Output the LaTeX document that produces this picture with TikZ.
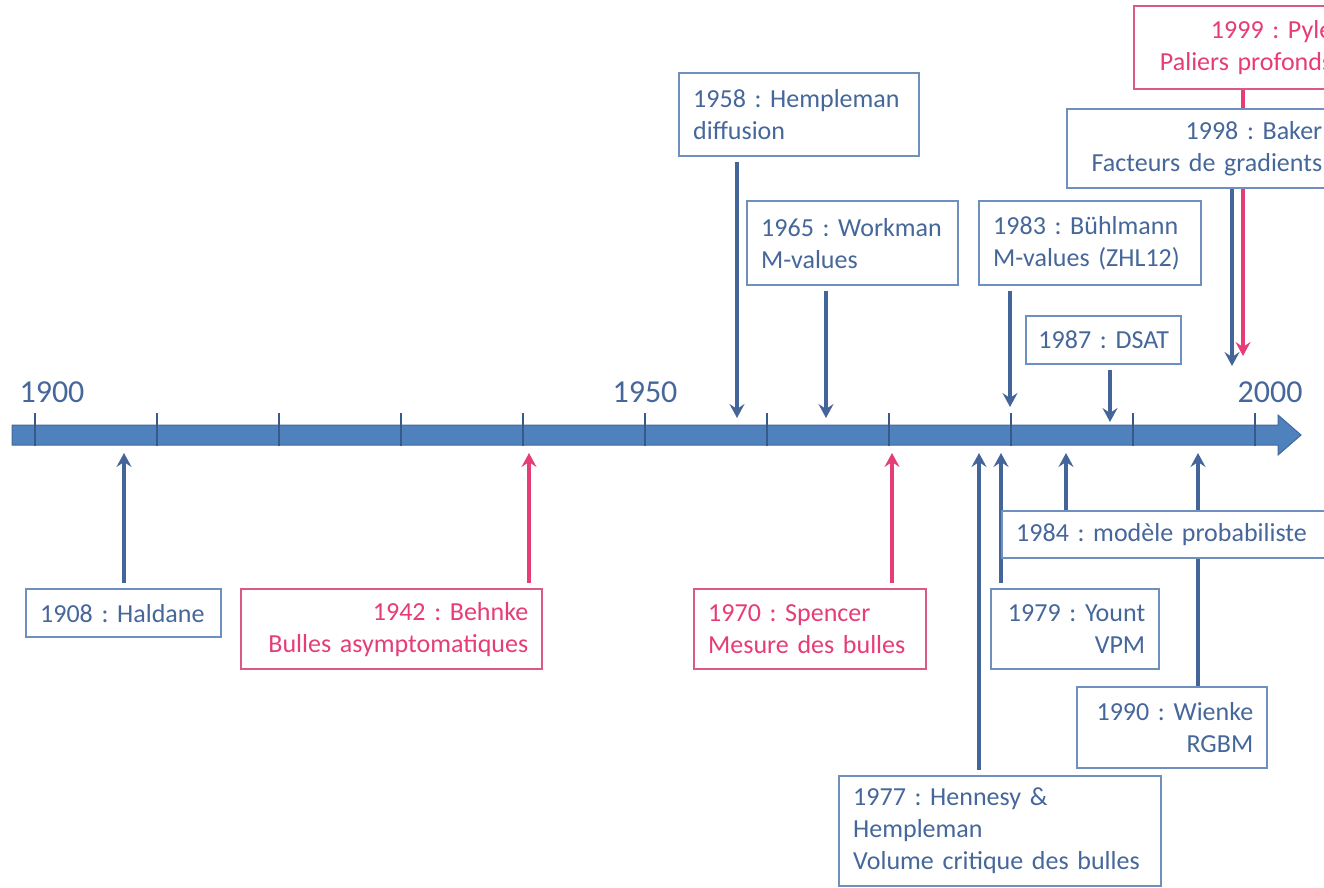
\documentclass[tikz,border=0pt]{standalone}
\usepackage{fontspec}
\setmainfont{Carlito}
\usetikzlibrary{arrows.meta}
\definecolor{bluetxt}{HTML}{46679A}
\definecolor{blueline}{HTML}{6F90BF}
\definecolor{arrblue}{HTML}{43659A}
\definecolor{pinktxt}{HTML}{E63C78}
\definecolor{pinkline}{HTML}{DB5A85}
\definecolor{barfill}{HTML}{4F81BD}
\definecolor{bardraw}{HTML}{41699C}
\definecolor{tickc}{HTML}{365B8A}
\pgfdeclarelayer{bg}
\pgfsetlayers{bg,main}
\frenchspacing
\begin{document}
\begin{tikzpicture}[x=1pt,y=-1pt,
  evbox/.style={draw=blueline, line width=2.4pt, fill=white, text=bluetxt,
    font=\fontsize{26}{32}\selectfont\frenchspacing, inner xsep=14pt, inner ysep=0pt, anchor=north west},
  pinkbox/.style={evbox, draw=pinkline, text=pinktxt},
  arr/.style={draw=arrblue, line width=3.2pt, shorten <=5pt,
    -{Stealth[length=14pt,width=15pt,inset=5pt]}},
  parr/.style={arr, draw=pinktxt},
  yearlbl/.style={text=bluetxt, font=\fontsize{32}{36}\selectfont},
  tick/.style={draw=tickc, line width=2.4pt}]
\useasboundingbox (0,0) rectangle (1324,888);
\clip (0,0) rectangle (1324,888);

% axis
\path[fill=barfill, draw=bardraw, line width=1pt]
  (12,425) -- (1278,425) -- (1278,415) -- (1301,435) -- (1278,455) -- (1278,445) -- (12,445) -- cycle;
\foreach \k in {0,...,10} {
  \draw[tick] (35+122*\k,413) -- (35+122*\k,446);
}
\node[yearlbl] (y1900) at (52,392) {1900};
\node[yearlbl] (y1950) at (645,392) {1950};
\node[yearlbl] (y2000) at (1270,392) {2000};

% boxes
\node[evbox, minimum width=195pt, minimum height=48pt, text width=167pt, align=left] (haldane) at (25,588) {1908 : Haldane};
\node[pinkbox, minimum width=301pt, minimum height=80pt, text width=273pt, align=right] (behnke) at (240,588) {1942 : Behnke\\Bulles asymptomatiques};
\node[evbox, minimum width=240pt, minimum height=83pt, text width=212pt, align=left] (hempleman) at (678,72) {1958 : Hempleman\\diffusion};
\node[evbox, minimum width=211pt, minimum height=84pt, text width=183pt, align=left] (workman) at (746,200) {1965 : Workman\\M-values};
\node[pinkbox, minimum width=232pt, minimum height=80pt, text width=204pt, align=left] (spencer) at (693,588) {1970 : Spencer\\Mesure des bulles};
\node[evbox, minimum width=322pt, minimum height=110pt, text width=294pt, align=left] (hennesy) at (838,775) {1977 : Hennesy \&\\Hempleman\\Volume critique des bulles};
\node[evbox, minimum width=168pt, minimum height=80pt, text width=140pt, align=right] (yount) at (990,588) {1979 : Yount\\VPM};
\node[evbox, minimum width=222pt, minimum height=84pt, text width=194pt, align=left] (buhlmann) at (978,200) {1983 : Bühlmann\\M-values (ZHL12)};
\node[evbox, minimum width=340pt, minimum height=47pt, text width=312pt, align=left] (proba) at (1001,510) {1984 : modèle probabiliste};
\node[evbox, inner xsep=8pt, minimum width=155pt, minimum height=48pt, text width=139pt, align=center] (dsat) at (1025,315) {1987 : DSAT};
\node[evbox, minimum width=190pt, minimum height=81pt, text width=162pt, align=right] (wienke) at (1076,686) {1990 : Wienke\\RGBM};
\node[evbox, minimum width=269pt, minimum height=79pt, text width=241pt, align=right] (baker) at (1066,108) {1998 : Baker\\Facteurs de gradients};
\node[pinkbox, minimum width=212pt, minimum height=83pt, text width=184pt, align=right] (pyle) at (1133,5) {1999 : Pyle\\Paliers profonds};

% arrow tips on the axis
\coordinate (tHaldane) at (124,453);
\coordinate (tBehnke) at (529,453);
\coordinate (tHempleman) at (737,418);
\coordinate (tWorkman) at (826,418);
\coordinate (tSpencer) at (892,453);
\coordinate (tHennesy) at (979,453);
\coordinate (tYount) at (1001,453);
\coordinate (tBuhlmann) at (1010,407);
\coordinate (tProba) at (1066,453);
\coordinate (tDsat) at (1110,422);
\coordinate (tWienke) at (1198,453);
\coordinate (tBaker) at (1232,366);
\coordinate (tPyle) at (1243,356);

\begin{pgfonlayer}{bg}
\draw[arr] (haldane.north -| tHaldane) -- (tHaldane);
\draw[parr] (behnke.north -| tBehnke) -- (tBehnke);
\draw[arr] (hempleman.south -| tHempleman) -- (tHempleman);
\draw[arr] (workman.south -| tWorkman) -- (tWorkman);
\draw[parr] (spencer.north -| tSpencer) -- (tSpencer);
\draw[arr] (hennesy.north -| tHennesy) -- (tHennesy);
\draw[arr] (yount.north -| tYount) -- (tYount);
\draw[arr] (buhlmann.south -| tBuhlmann) -- (tBuhlmann);
\draw[arr, shorten <=0pt] (proba.north -| tProba) -- (tProba);
\draw[arr] (dsat.south -| tDsat) -- (tDsat);
\draw[arr, shorten <=0pt] (wienke.north -| tWienke) -- (tWienke);
\draw[arr, shorten <=0pt] (baker.south -| tBaker) -- (tBaker);
\draw[parr, shorten <=0pt] (pyle.south -| tPyle) -- (tPyle);
\end{pgfonlayer}
\end{tikzpicture}
\end{document}
